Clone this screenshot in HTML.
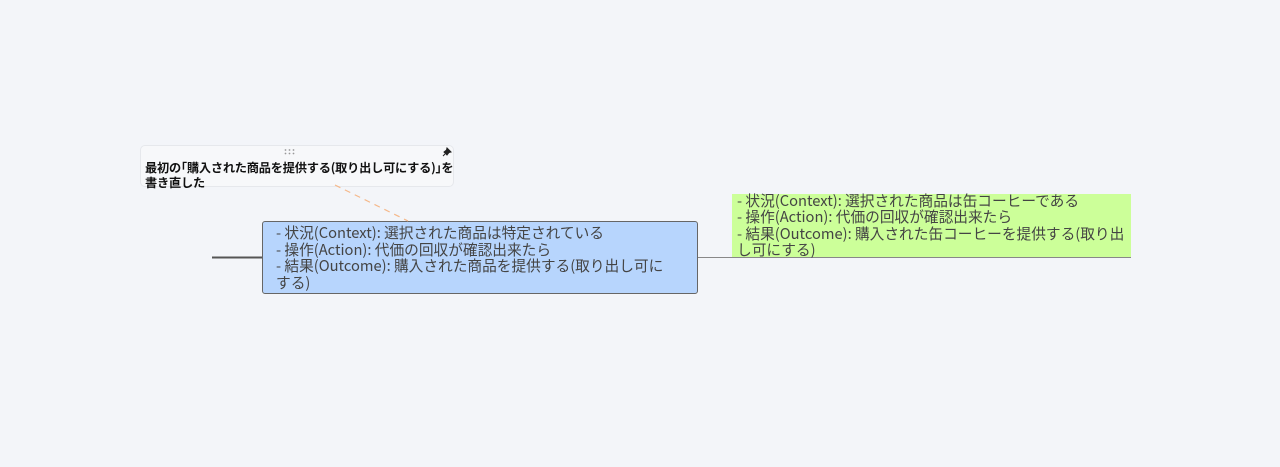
<!DOCTYPE html>
<html><head><meta charset="utf-8"><style>
body{margin:0;width:1280px;height:467px;background:#f3f5f9;position:relative;overflow:hidden;font-family:"Noto Sans CJK JP","Liberation Sans",sans-serif}
.a{position:absolute}
.blue{left:262px;top:221px;width:434px;height:71px;background:#b7d5fd;border:1.5px solid #666;border-radius:3px}
.bt{left:276px;top:225px;width:400px;font-size:14.7px;line-height:16.5px;color:#444}
.green{left:732px;top:194px;width:399px;height:63px;background:#ccff99}
.gt{left:737px;top:193px;width:400px;font-size:14.7px;line-height:16.3px;color:#444}
.note{left:140px;top:145px;width:312px;height:40px;background:#f7f8fa;border:1px solid #e6e8ec;border-radius:5px}
.nt{left:145px;top:160px;font-size:12.2px;line-height:15px;color:#111;font-weight:bold;width:320px;letter-spacing:-0.2px}
</style></head><body>
<svg class="a" style="left:0;top:0" width="1280" height="467">
<line x1="212" y1="257.5" x2="262" y2="257.5" stroke="#555" stroke-width="2"/>
<line x1="698" y1="257.5" x2="1131" y2="257.5" stroke="#888" stroke-width="1"/>
</svg>
<div class="a green"></div>
<div class="a gt">- 状況(Context): 選択された商品は缶コーヒーである<br>- 操作(Action): 代価の回収が確認出来たら<br>- 結果(Outcome): 購入された缶コーヒーを提供する(取り出<br>し可にする)</div>
<div class="a blue"></div>
<div class="a bt">- 状況(Context): 選択された商品は特定されている<br>- 操作(Action): 代価の回収が確認出来たら<br>- 結果(Outcome): 購入された商品を提供する(取り出し可に<br>する)</div>
<div class="a note"></div>
<svg class="a" style="left:284px;top:149px" width="12" height="6"><g fill="#999"><circle cx="1.5" cy="1" r="0.9"/><circle cx="5.5" cy="1" r="0.9"/><circle cx="9.5" cy="1" r="0.9"/><circle cx="1.5" cy="4.5" r="0.9"/><circle cx="5.5" cy="4.5" r="0.9"/><circle cx="9.5" cy="4.5" r="0.9"/></g></svg>
<svg class="a" style="left:442px;top:147px" width="10" height="10"><path d="M5 1 L9 5 L7 5.5 L5 8 L2 5 L4.5 3 Z M3 7 L1 9" stroke="#222" fill="#222" stroke-width="1"/></svg>
<div class="a nt">最初の｢購入された商品を提供する(取り出し可にする)｣を<br>書き直した</div>
<svg class="a" style="left:0;top:0" width="1280" height="467">
<line x1="335" y1="185" x2="408" y2="221" stroke="#f5b88a" stroke-width="1.2" stroke-dasharray="6,5"/>
</svg>
</body></html>
